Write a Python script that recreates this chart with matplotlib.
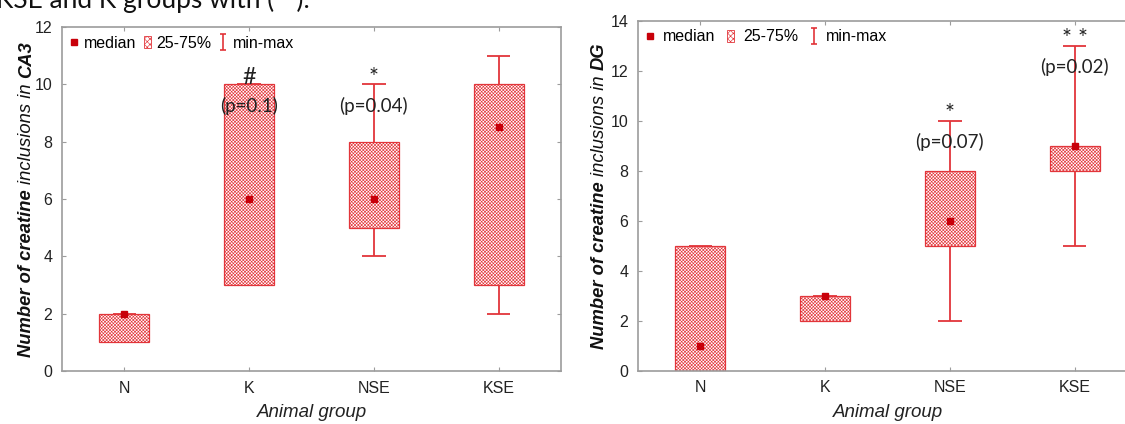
import matplotlib
matplotlib.use("Agg")
import matplotlib.pyplot as plt
import numpy as np
from matplotlib.lines import Line2D
from matplotlib.patches import Patch
from matplotlib.path import Path

plt.rcParams['font.family'] = ['Liberation Sans', 'DejaVu Sans']
plt.rcParams['hatch.linewidth'] = 0.45

groups = ["N", "K", "NSE", "KSE"]

# CA3 panel
ca3_min = [1, 3, 4, 2]
ca3_q1 = [1, 3, 5, 3]
ca3_med = [2, 6, 6, 8.5]
ca3_q3 = [2, 10, 8, 10]
ca3_max = [2, 10, 10, 11]
ca3_marks = ["", "#", "*", ""]
ca3_pvals = ["", "(p=0.1)", "(p=0.04)", ""]

# DG panel
dg_min = [0, 2, 2, 5]
dg_q1 = [0, 2, 5, 8]
dg_med = [1, 3, 6, 9]
dg_q3 = [5, 3, 8, 9]
dg_max = [5, 3, 10, 13]
dg_marks = ["", "", "*", "* *"]
dg_pvals = ["", "", "(p=0.07)", "(p=0.02)"]

RED = '#e2353a'
DARK = '#c8000a'
GREY = '#9c9c9c'
HATCH = 'x' * 10

W, H = 1125, 424
fig = plt.figure(figsize=(W / 100, H / 100), dpi=100)

# whisker glyph for the legend
cap_path = Path([(-0.45, 1), (0.45, 1), (0, 1), (0, -1), (-0.45, -1), (0.45, -1)],
                [Path.MOVETO, Path.LINETO, Path.MOVETO, Path.LINETO, Path.MOVETO, Path.LINETO])


def panel(rect, ymax, mins, q1, med, q3, maxs, marks, pvals, leg_spacing):
    ax = fig.add_axes(rect)
    x = np.arange(1, len(groups) + 1)
    q1 = np.array(q1, float)
    q3 = np.array(q3, float)
    ax.vlines(x, mins, maxs, color=RED, lw=1.3, zorder=1)
    ax.hlines(mins, x - 0.095, x + 0.095, color=RED, lw=1.3, zorder=1)
    ax.hlines(maxs, x - 0.095, x + 0.095, color=RED, lw=1.3, zorder=1)
    ax.bar(x, q3 - q1, bottom=q1, width=0.4, facecolor='white', edgecolor=RED,
           hatch=HATCH, lw=0.9, zorder=2)
    ax.plot(x, med, ls='none', marker='s', ms=5, color=DARK, zorder=3)

    for xi, top, m, p in zip(x, maxs, marks, pvals):
        if m:
            ax.annotate(m, (xi, top), xytext=(0, -2.5), textcoords='offset points',
                        ha='center', va='bottom', fontsize=17, family='Lato', color='#222')
        if p:
            ax.annotate(p, (xi, top), xytext=(0, -15.5), textcoords='offset points',
                        ha='center', va='center', fontsize=13.5, family='Lato', color='#222')

    ax.set_xlim(0.5, 4.5)
    ax.set_ylim(0, ymax)
    ax.set_xticks(x, groups)
    ax.set_yticks(np.arange(0, ymax + 1, 2))
    ax.tick_params(direction='in', length=3, color=GREY, labelsize=11.5,
                   labelcolor='#222', top=True, right=True, pad=7)
    for s in ax.spines.values():
        s.set_color(GREY)
        s.set_linewidth(1.2)
    ax.set_xlabel("Animal group", fontsize=13.5, style='italic', color='#222', labelpad=6)

    handles = [
        Line2D([], [], ls='none', marker='s', ms=4, color=DARK),
        Patch(facecolor='white', edgecolor=RED, hatch='x' * 6, lw=0.6),
        Line2D([], [], ls='none', marker=cap_path, ms=11, mew=1.2, color=RED),
    ]
    ax.legend(handles, ["median", "25-75%", "min-max"], loc='upper left', ncol=3,
              frameon=False, fontsize=11.5, handlelength=0.45, handleheight=0.75,
              handletextpad=leg_spacing[0], columnspacing=leg_spacing[1],
              borderaxespad=0.25, borderpad=0.3)
    return ax


ax1 = panel([62 / W, 53 / H, 499 / W, 344 / H], 12, ca3_min, ca3_q1, ca3_med, ca3_q3,
            ca3_max, ca3_marks, ca3_pvals, (0.35, 0.5))
ax2 = panel([638 / W, 53.3 / H, 499 / W, 350 / H], 14, dg_min, dg_q1, dg_med, dg_q3,
            dg_max, dg_marks, dg_pvals, (0.55, 0.75))


def ylabel(xpix, ax, parts, size=13.2):
    fig.canvas.draw()
    r = fig.canvas.get_renderer()
    texts = []
    for txt, wt in parts:
        t = fig.text(xpix / W, 0, txt, rotation=90, rotation_mode='anchor',
                     ha='left', va='baseline', fontsize=size, style='italic',
                     weight=wt, color='#111')
        texts.append(t)
    gap = 0.27 * size * 100 / 72
    lens = [t.get_window_extent(r).height for t in texts]
    total = sum(lens) + gap * (len(lens) - 1)
    bb = ax.get_window_extent(r)
    y = (bb.y0 + bb.y1) / 2 - total / 2
    for t, ln in zip(texts, lens):
        t.set_y(y / H)
        y += ln + gap


ylabel(31, ax1, [("Number of creatine", 'bold'), ("inclusions in", 'normal'), ("CA3", 'bold')])
ylabel(604, ax2, [("Number of creatine", 'bold'), ("inclusions in", 'normal'), ("DG", 'bold')])

# tail of the caption line above the figure
fig.text(-0.004, 1 - 8 / H, "KSE and K groups with (**).", va='baseline', ha='left',
         fontsize=19, family='Lato', color='#111')

fig.savefig("out.png", dpi=100)
